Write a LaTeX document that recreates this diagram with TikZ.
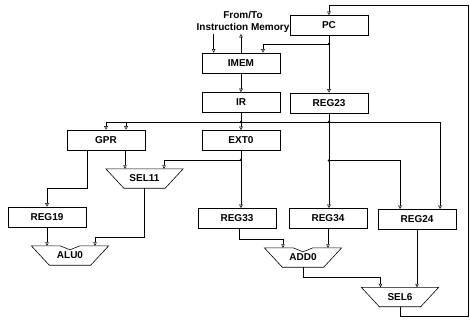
\documentclass[tikz,border=0pt]{standalone}
\usepackage{fontspec}
\setmainfont{Liberation Sans}
\usetikzlibrary{arrows.meta,calc}

\newcommand{\muxoutline}[1]{%
  \draw[line width=0.6pt] (#1.north west) -- (#1.north east)
    -- ([xshift=-18pt]#1.south east) -- ([xshift=18pt]#1.south west) -- cycle;}
\newcommand{\aluoutline}[1]{%
  \draw[line width=0.6pt] (#1.north west) -- ([xshift=-10pt]#1.north)
    -- ([yshift=-4pt]#1.north) -- ([xshift=10pt]#1.north) -- (#1.north east)
    -- ([xshift=-18pt]#1.south east) -- ([xshift=18pt]#1.south west) -- cycle;}

\begin{document}
\begin{tikzpicture}[x=1pt, y=-1pt,
  box/.style={
    draw,
    line width=0.6pt,
    minimum width=78pt,
    minimum height=20pt,
    inner sep=0pt
  },
  mux/.style={minimum width=77pt, minimum height=19pt, inner sep=0pt},
  arrow/.style={-{Triangle[open,length=3.5pt,width=3.5pt]}, line width=0.5pt},
  wire/.style={line width=0.5pt},
  every node/.style={font=\fontsize{10}{12}\selectfont\bfseries}
]
\useasboundingbox (0,0) rectangle (470,321);

\node[align=center, inner sep=1pt] (mem) at (243,22) {From/To\\Instruction Memory};
\node[box] (pc) at (329,25.5) {PC};
\node[box] (imem) at (241,63) {IMEM};
\node[box] (ir) at (241,102.5) {IR};
\node[box] (reg23) at (329,103) {REG23};
\node[box] (gpr) at (106,140) {GPR};
\node[box] (ext0) at (241,140.5) {EXT0};
\node[mux] (sel11) at (144.5,178.5) {\raisebox{-3pt}{SEL11}};
\node[box] (reg19) at (47,217) {REG19};
\node[box] (reg33) at (237,218.5) {REG33};
\node[box] (reg34) at (328,218.5) {REG34};
\node[box] (reg24) at (417,219.5) {REG24};
\node[mux] (alu0) at (70,255.5) {\raisebox{-3pt}{ALU0}};
\node[mux] (add0) at (303,257.5) {\raisebox{-3pt}{ADD0}};
\node[mux] (sel6) at (400,297) {\raisebox{-3pt}{SEL6}};
\muxoutline{sel11}
\muxoutline{sel6}
\aluoutline{alu0}
\aluoutline{add0}

\coordinate (jpc) at (329,44);
\coordinate (jir) at (241,122);
\coordinate (jreg) at (329,122);
\coordinate (jsplit) at (329,160.5);
\coordinate (jext) at (241,160);
\coordinate (loopbr) at (468,316);
\coordinate (looptr) at (468,5);
\coordinate (memin) at ([xshift=12pt]imem.north west);
\coordinate (imemin) at ([xshift=22pt]imem.north);
\coordinate (gprin) at ([xshift=20pt]gpr.north);
\coordinate (gprl) at ([xshift=-19pt]gpr.south);
\coordinate (gprr) at ([xshift=19pt]gpr.south);
\coordinate (sel11in) at ([xshift=19.5pt]sel11.north);
\coordinate (aluin) at ([xshift=25pt]alu0.north);
\coordinate (addin) at ([xshift=-20pt]add0.north);
\coordinate (addin2) at ([xshift=25pt]add0.north);
\coordinate (reg24in) at ([xshift=-17pt]reg24.north);
\coordinate (reg24in2) at ([xshift=23pt]reg24.north);
\coordinate (sel6in) at ([xshift=-19.5pt]sel6.north);
\coordinate (sel6in2) at ([xshift=17pt]sel6.north);

\draw[arrow] (memin |- mem.south) -- (memin);
\draw[arrow] (imem.north) -- (imem.north |- mem.south);
\draw[wire] (pc) -- (jpc);
\draw[arrow] (jpc) -| (imemin);
\draw[arrow] (jpc) -- (reg23);
\draw[arrow] (imem) -- (ir);
\draw[wire] (ir) -- (jir);
\draw[wire] (reg23) -- (jreg);
\draw[wire] (jir) -- (jreg);
\draw[arrow] (jir) -| (gpr.north);
\draw[arrow] (gprin |- jir) -- (gprin);
\draw[arrow] (jir) -- (ext0);
\draw[arrow] (jreg) -| (reg24in2);
\draw[arrow] (jreg) -- (jreg |- reg34.north);
\draw[arrow] (jsplit) -| (reg24in);
\draw[wire] (ext0) -- (jext);
\draw[arrow] (jext) -- (jext |- reg33.north);
\draw[arrow] (jext) -| (sel11in);
\draw[arrow] (gprr) -- (gprr |- sel11.north);
\draw[arrow] (gprl) -- ++(0,38) -| (reg19.north);
\draw[arrow] (reg19) -- (reg19 |- alu0.north);
\draw[arrow] (sel11.south) -- ++(0,49) -| (aluin);
\draw[arrow] ([xshift=2pt]reg33.south) -- ++(0,10) -| (addin);
\draw[arrow] (reg34.south) -- (addin2);
\draw[arrow] (add0.south) -- ++(0,10) -| (sel6in);
\draw[arrow] (reg24.south) -- (sel6in2);
\draw[arrow] (sel6.south) |- (loopbr) -- (looptr) -| (pc.north);

\foreach \j in {jpc,jir,jreg,jsplit,jext}
  \fill (\j) circle (1.3pt);
\end{tikzpicture}
\end{document}
